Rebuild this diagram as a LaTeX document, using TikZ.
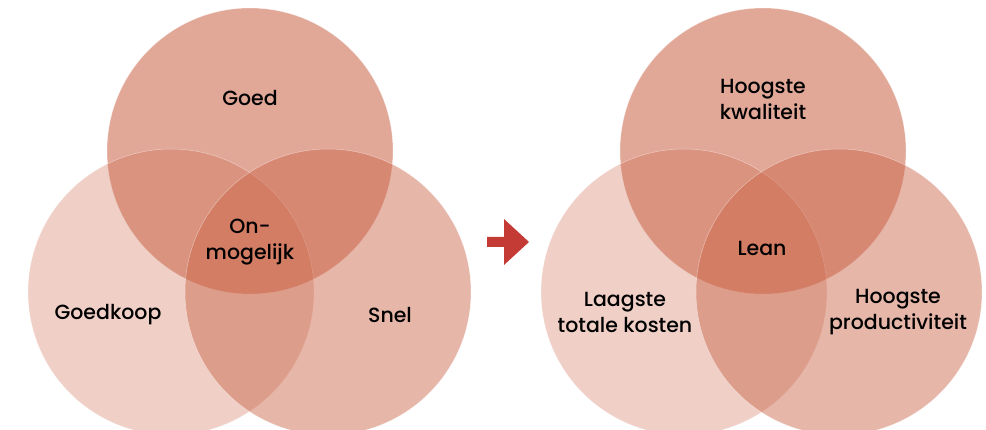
\documentclass[tikz,border=0pt]{standalone}
\usepackage{fontspec}
\setmainfont{Poppins}[UprightFont=* Medium]
\usepackage{tikz}
\definecolor{vennbase}{RGB}{202,100,72}
\definecolor{pijlrood}{RGB}{196,58,52}
\tikzset{
  venn/.style={circle,minimum size=286pt,inner sep=0pt,fill=vennbase,
    draw=white,draw opacity=0.45,line width=0.5pt},
  lbl/.style={align=center,font=\fontsize{20.5}{26}\selectfont,text=black,inner sep=0pt}
}
\begin{document}
\begin{tikzpicture}[x=1pt,y=-1pt]
\useasboundingbox (0,0) rectangle (986,430);
\clip (0,0) rectangle (986,430);
% links: drie eisen
\node[venn,fill opacity=0.56] (goed) at (250,151) {};
\node[venn,fill opacity=0.31] (goedkoop) at (171,292) {};
\node[venn,fill opacity=0.47] (snel) at (328,292) {};
\node[lbl] (tgoed) at (250,98) {Goed};
\node[lbl] (tonm) at (250,242) {On-\\mogelijk};
\node[lbl] (tgoedkoop) at (108,315) {Goedkoop};
\node[lbl] (tsnel) at (390,315) {Snel};
% pijl
\fill[pijlrood] (487,237) -- (504,237) -- (504,219) -- (529,242)
  -- (504,265) -- (504,247) -- (487,247) -- cycle;
% rechts: lean
\node[venn,fill opacity=0.56] (kwal) at (763,151) {};
\node[venn,fill opacity=0.31] (kost) at (684,292) {};
\node[venn,fill opacity=0.47] (prod) at (839,292) {};
\node[lbl] (tkwal) at (763,99) {Hoogste\\kwaliteit};
\node[lbl] (tlean) at (762,248) {Lean};
\node[lbl] (tkost) at (625,312) {Laagste\\totale kosten};
\node[lbl] (tprod) at (898,312) {Hoogste\\productiviteit};
\end{tikzpicture}
\end{document}
